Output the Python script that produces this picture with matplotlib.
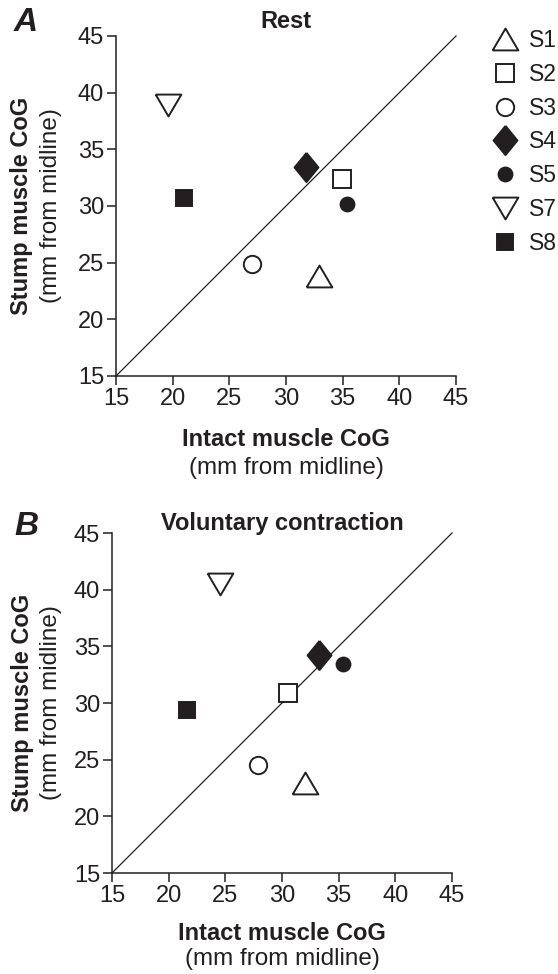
import matplotlib
matplotlib.use("Agg")
import matplotlib.pyplot as plt

plt.rcParams["font.family"] = ["Liberation Sans", "DejaVu Sans"]

INK = "#231f20"

subjects = ["S1", "S2", "S3", "S4", "S5", "S7", "S8"]
rest_intact = [32.9, 34.9, 27.0, 31.8, 35.4, 19.6, 21.0]
rest_stump = [23.8, 32.4, 24.9, 33.4, 30.2, 38.9, 30.7]
vol_intact = [32.0, 30.5, 27.9, 33.3, 35.4, 24.5, 21.6]
vol_stump = [22.9, 30.9, 24.5, 34.2, 33.4, 40.5, 29.4]
ticks = [15, 20, 25, 30, 35, 40, 45]

# marker shapes (closed custom triangles/diamond, squatter than the defaults)
tri_up = [(-1, -0.85), (1, -0.85), (0, 0.85), (-1, -0.85)]
tri_down = [(-1, 0.85), (1, 0.85), (0, -0.85), (-1, 0.85)]
diamond = [(0, 1), (0.82, 0), (0, -1), (-0.82, 0), (0, 1)]
styles = {
    "S1": dict(marker=tri_up, ms=18.5, mfc="white"),
    "S2": dict(marker="s", ms=12.5, mfc="white"),
    "S3": dict(marker="o", ms=12.5, mfc="white"),
    "S4": dict(marker=diamond, ms=21, mfc=INK),
    "S5": dict(marker="o", ms=10, mfc=INK),
    "S7": dict(marker=tri_down, ms=18.5, mfc="white"),
    "S8": dict(marker="s", ms=12, mfc=INK),
}

fig = plt.figure(figsize=(5.58, 9.74), dpi=100)
ax_a = fig.add_axes([116 / 558, 1 - 376 / 974, 340 / 558, 340 / 974])
ax_b = fig.add_axes([112 / 558, 1 - 873 / 974, 340 / 558, 340 / 974])

panels = [
    (ax_a, rest_intact, rest_stump, "A", "Rest",
     (-0.265, 1.041), 1.044, (-0.2765, -0.191), (-0.188, -0.27)),
    (ax_b, vol_intact, vol_stump, "B", "Voluntary contraction",
     (-0.253, 1.018), 1.029, (-0.2647, -0.179), (-0.179, -0.253)),
]

for ax, xs, ys, letter, title, lpos, ty, ylx, xly in panels:
    ax.plot([15, 45], [15, 45], color=INK, lw=0.9, zorder=1)
    for s, x, y in zip(subjects, xs, ys):
        st = styles[s]
        ax.plot([x], [y], linestyle="none", marker=st["marker"],
                markersize=st["ms"], markerfacecolor=st["mfc"],
                markeredgecolor=INK, markeredgewidth=1.4, label=s, zorder=3)
    ax.set_xlim(15, 45)
    ax.set_ylim(15, 45)
    ax.set_xticks(ticks)
    ax.set_yticks(ticks)
    ax.spines["top"].set_visible(False)
    ax.spines["right"].set_visible(False)
    for sp in ("left", "bottom"):
        ax.spines[sp].set_linewidth(1.1)
        ax.spines[sp].set_color(INK)
    ax.tick_params(direction="out", length=6.5, width=1.1, colors=INK,
                   labelsize=17, pad=2)
    for line in ax.lines:
        line.set_clip_on(False)

    ax.text(lpos[0], lpos[1], letter, transform=ax.transAxes, ha="center",
            va="center", fontsize=24, fontweight="bold", fontstyle="italic",
            color=INK)
    ax.text(0.5, ty, title, transform=ax.transAxes, ha="center", va="center",
            fontsize=17, fontweight="bold", color=INK)
    ax.text(ylx[0], 0.5, "Stump muscle CoG", transform=ax.transAxes,
            rotation=90, ha="center", va="center", fontsize=17,
            fontweight="bold", color=INK)
    ax.text(ylx[1], 0.5, "(mm from midline)", transform=ax.transAxes,
            rotation=90, ha="center", va="center", fontsize=17.5, color=INK)
    ax.text(0.5, xly[0], "Intact muscle CoG", transform=ax.transAxes,
            ha="center", va="center", fontsize=17, fontweight="bold",
            color=INK)
    ax.text(0.5, xly[1], "(mm from midline)", transform=ax.transAxes,
            ha="center", va="center", fontsize=17.5, color=INK)

handles, labels = ax_a.get_legend_handles_labels()
fig.legend(handles, labels, loc="upper left",
           bbox_to_anchor=(487.5 / 558, 1 - 29 / 974),
           bbox_transform=fig.transFigure, frameon=False, fontsize=16.5,
           handlelength=1.5, handletextpad=0.3, borderpad=0,
           borderaxespad=0, labelspacing=0.47, labelcolor=INK)

fig.savefig("out.png", dpi=100)
